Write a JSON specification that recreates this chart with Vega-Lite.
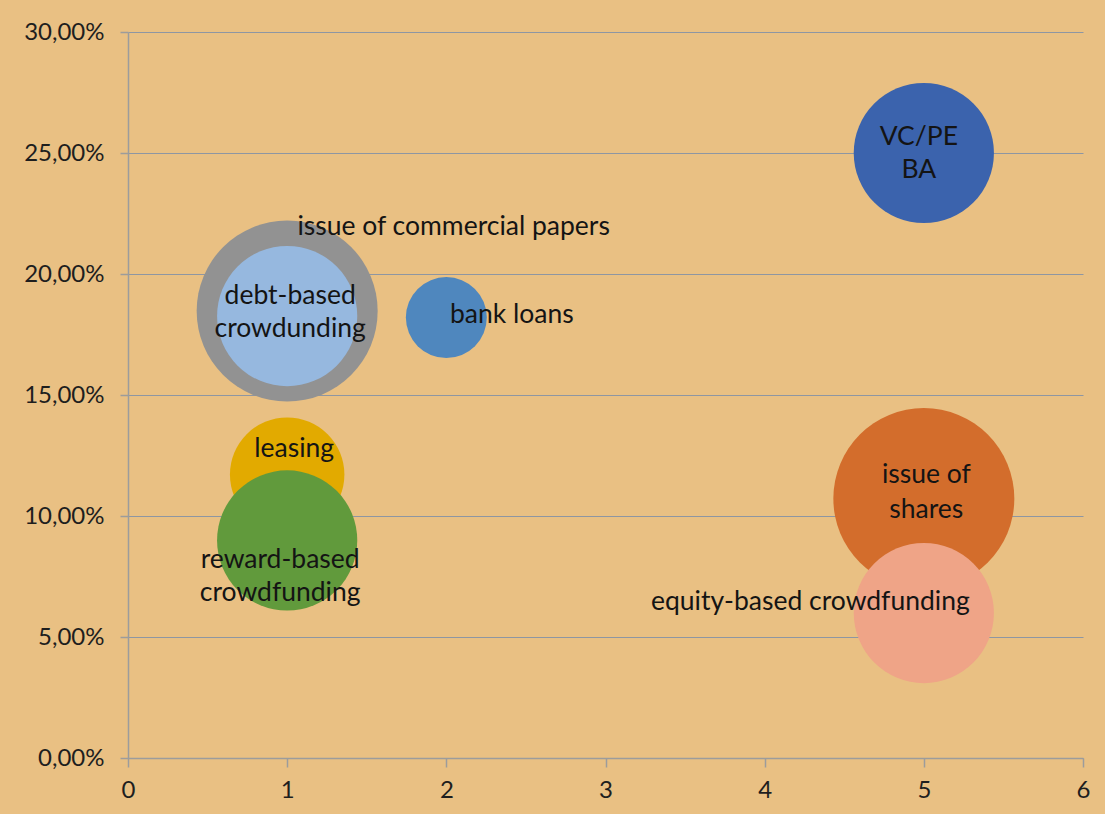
{
  "$schema": "https://vega.github.io/schema/vega-lite/v6.json",
  "width": 955,
  "height": 726,
  "autosize": {"type": "none"},
  "padding": {"left": 128, "top": 32, "right": 22, "bottom": 56},
  "background": "#E9C083",
  "config": {
    "locale": {"number": {"decimal": ",", "thousands": ".", "grouping": [3], "currency": ["", " €"]}},
    "view": {"stroke": null},
    "font": "Lato",
    "axis": {
      "labelFont": "Lato",
      "labelFontSize": 24,
      "labelColor": "#1e1e1e",
      "labelFlush": false,
      "domainColor": "#9C9C9C",
      "domainWidth": 1.5,
      "tickColor": "#9C9C9C",
      "tickWidth": 1.5,
      "tickSize": 8,
      "gridColor": "#8E96A2",
      "gridWidth": 1.2,
      "title": null
    }
  },
  "data": {
    "values": [
      {"name": "VC/PE BA", "label": "VC/PE\nBA", "x": 5, "y": 0.25, "size": 3},
      {"name": "bank loans", "label": "bank loans", "x": 2, "y": 0.182, "size": 1},
      {"name": "issue of commercial papers", "label": "issue of commercial papers", "x": 1, "y": 0.1847, "size": 5},
      {"name": "debt-based crowdunding", "label": "debt-based\ncrowdunding", "x": 1, "y": 0.1826, "size": 3},
      {"name": "leasing", "label": "leasing", "x": 1, "y": 0.1171, "size": 2},
      {"name": "reward-based crowdfunding", "label": "reward-based\ncrowdfunding", "x": 1, "y": 0.0899, "size": 3},
      {"name": "issue of shares", "label": "issue of\nshares", "x": 5, "y": 0.1072, "size": 5},
      {"name": "equity-based crowdfunding", "label": "equity-based crowdfunding", "x": 5, "y": 0.0599, "size": 3}
    ]
  },
  "layer": [
    {
      "mark": {"type": "point", "shape": "circle", "filled": true, "opacity": 1, "strokeWidth": 0},
      "encoding": {
        "x": {
          "field": "x", "type": "quantitative",
          "scale": {"domain": [0, 6], "nice": false, "zero": true},
          "axis": {"values": [0, 1, 2, 3, 4, 5, 6], "format": "d", "grid": false, "tickSize": 9, "labelPadding": 11}
        },
        "y": {
          "field": "y", "type": "quantitative",
          "scale": {"domain": [0, 0.3], "nice": false},
          "axis": {"values": [0, 0.05, 0.1, 0.15, 0.2, 0.25, 0.3], "format": ".2%", "grid": true, "labelPadding": 16}
        },
        "size": {
          "field": "size", "type": "quantitative",
          "scale": {"type": "linear", "domain": [0, 5], "range": [0, 32761]},
          "legend": null
        },
        "color": {
          "field": "name", "type": "nominal",
          "scale": {
            "domain": ["VC/PE BA", "bank loans", "issue of commercial papers", "debt-based crowdunding", "leasing", "reward-based crowdfunding", "issue of shares", "equity-based crowdfunding"],
            "range": ["#3B63AD", "#4F87BE", "#929292", "#96B8DF", "#E2AA00", "#619A3C", "#D36D2C", "#EFA487"]
          },
          "legend": null
        }
      }
    },
    {
      "transform": [{"filter": "datum.name == 'VC/PE BA'"}],
      "mark": {"type": "text", "align": "center", "baseline": "alphabetic", "fontSize": 26.5, "lineHeight": 33, "lineBreak": "\n", "color": "#141414", "dx": -5, "dy": -8},
      "encoding": {"x": {"field": "x", "type": "quantitative"}, "y": {"field": "y", "type": "quantitative"}, "text": {"field": "label"}}
    },
    {
      "transform": [{"filter": "datum.name == 'issue of shares'"}],
      "mark": {"type": "text", "align": "center", "baseline": "alphabetic", "fontSize": 26.5, "lineHeight": 35, "lineBreak": "\n", "color": "#141414", "dx": 2.5, "dy": -15.5},
      "encoding": {"x": {"field": "x", "type": "quantitative"}, "y": {"field": "y", "type": "quantitative"}, "text": {"field": "label"}}
    },
    {
      "transform": [{"filter": "datum.name == 'debt-based crowdunding'"}],
      "mark": {"type": "text", "align": "center", "baseline": "alphabetic", "fontSize": 26.5, "lineHeight": 33, "lineBreak": "\n", "color": "#141414", "dx": 3, "dy": -12},
      "encoding": {"x": {"field": "x", "type": "quantitative"}, "y": {"field": "y", "type": "quantitative"}, "text": {"field": "label"}}
    },
    {
      "transform": [{"filter": "datum.name == 'issue of commercial papers'"}],
      "mark": {"type": "text", "align": "center", "baseline": "alphabetic", "fontSize": 26.5, "color": "#141414", "dx": 166.5, "dy": -76},
      "encoding": {"x": {"field": "x", "type": "quantitative"}, "y": {"field": "y", "type": "quantitative"}, "text": {"field": "label"}}
    },
    {
      "transform": [{"filter": "datum.name == 'bank loans'"}],
      "mark": {"type": "text", "align": "center", "baseline": "alphabetic", "fontSize": 26.5, "color": "#141414", "dx": 65.5, "dy": 5},
      "encoding": {"x": {"field": "x", "type": "quantitative"}, "y": {"field": "y", "type": "quantitative"}, "text": {"field": "label"}}
    },
    {
      "transform": [{"filter": "datum.name == 'leasing'"}],
      "mark": {"type": "text", "align": "center", "baseline": "alphabetic", "fontSize": 26.5, "color": "#141414", "dx": 7, "dy": -17.5},
      "encoding": {"x": {"field": "x", "type": "quantitative"}, "y": {"field": "y", "type": "quantitative"}, "text": {"field": "label"}}
    },
    {
      "transform": [{"filter": "datum.name == 'reward-based crowdfunding'"}],
      "mark": {"type": "text", "align": "center", "baseline": "alphabetic", "fontSize": 26.5, "lineHeight": 33, "lineBreak": "\n", "color": "#141414", "dx": -7, "dy": 27.5},
      "encoding": {"x": {"field": "x", "type": "quantitative"}, "y": {"field": "y", "type": "quantitative"}, "text": {"field": "label"}}
    },
    {
      "transform": [{"filter": "datum.name == 'equity-based crowdfunding'"}],
      "mark": {"type": "text", "align": "center", "baseline": "alphabetic", "fontSize": 26.5, "color": "#141414", "dx": -113.5, "dy": -3},
      "encoding": {"x": {"field": "x", "type": "quantitative"}, "y": {"field": "y", "type": "quantitative"}, "text": {"field": "label"}}
    }
  ]
}
